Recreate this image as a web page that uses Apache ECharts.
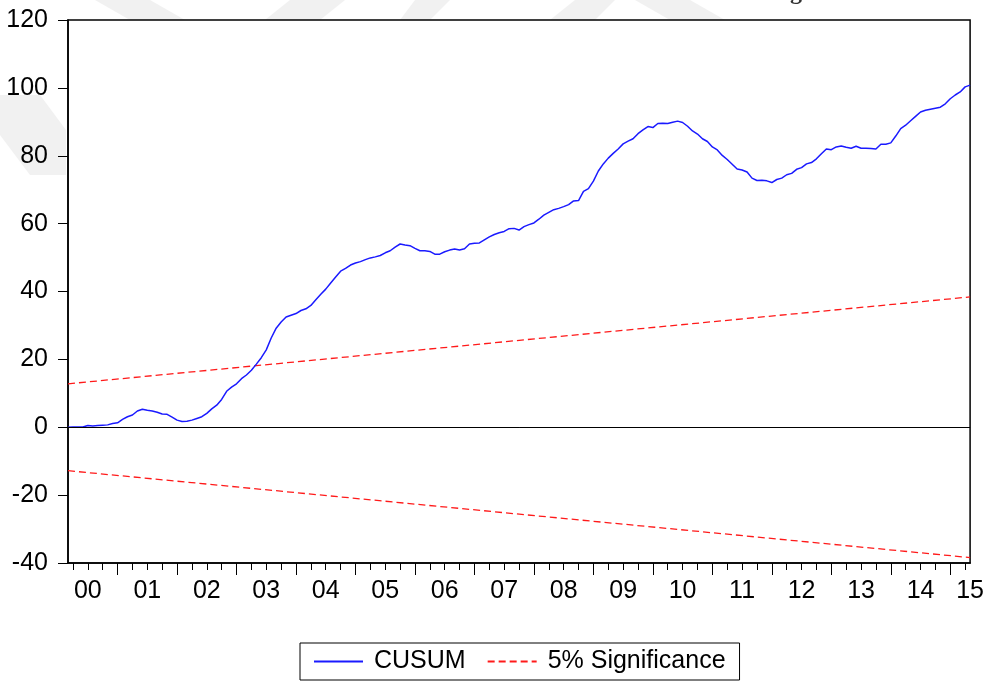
<!DOCTYPE html>
<html>
<head>
<meta charset="utf-8">
<title>CUSUM</title>
<script src="https://cdn.jsdelivr.net/npm/echarts@6/dist/echarts.min.js"></script>
<style>
  html, body { margin: 0; padding: 0; background: #ffffff; }
  #chart { width: 987px; height: 682px; }
</style>
</head>
<body>
<div id="chart"></div>
<script>
// Monthly sample: 2000M03 .. 2015M05
const startYear = 2000, startMonth = 3, nObs = 183;
const months = [];
for (let k = 0; k < nObs; k++) {
  const m = startMonth - 1 + k;
  const y = startYear + Math.floor(m / 12);
  const mm = (m % 12) + 1;
  months.push(y + 'M' + (mm < 10 ? '0' + mm : mm));
}

// Cumulative sum of recursive residuals
const cusum = [
  0.0, 0.1, 0.1, 0.1, 0.5, 0.4, 0.5, 0.6, 0.7, 1.1,
  1.3, 2.3, 3.1, 3.6, 4.8, 5.3, 5.0, 4.8, 4.4, 3.9,
  3.8, 3.0, 2.1, 1.7, 1.8, 2.1, 2.6, 3.1, 4.1, 5.4,
  6.5, 8.2, 10.6, 11.8, 12.8, 14.3, 15.4, 16.8, 18.6, 20.5,
  22.8, 26.3, 29.2, 31.0, 32.5, 33.0, 33.5, 34.4, 34.9, 35.9,
  37.6, 39.2, 40.7, 42.5, 44.3, 46.0, 46.8, 47.8, 48.4, 48.8,
  49.4, 49.9, 50.2, 50.6, 51.4, 52.0, 53.1, 54.0, 53.7, 53.5,
  52.7, 52.0, 52.0, 51.8, 51.0, 51.0, 51.7, 52.2, 52.5, 52.2,
  52.6, 54.0, 54.2, 54.3, 55.2, 56.1, 56.8, 57.3, 57.7, 58.5,
  58.6, 58.1, 59.1, 59.7, 60.2, 61.3, 62.5, 63.3, 64.1, 64.5,
  65.0, 65.6, 66.7, 66.8, 69.5, 70.3, 72.5, 75.5, 77.6, 79.3,
  80.7, 82.0, 83.5, 84.3, 85.0, 86.5, 87.6, 88.6, 88.3, 89.5,
  89.6, 89.5, 89.9, 90.2, 89.8, 88.7, 87.3, 86.4, 85.0, 84.2,
  82.6, 81.7, 80.1, 78.9, 77.5, 76.1, 75.8, 75.2, 73.4, 72.7,
  72.8, 72.6, 72.1, 73.0, 73.4, 74.4, 74.8, 76.0, 76.5, 77.6,
  78.0, 79.1, 80.6, 82.0, 81.8, 82.6, 82.9, 82.5, 82.2, 82.8,
  82.2, 82.2, 82.1, 82.0, 83.4, 83.4, 83.8, 85.8, 88.0, 89.0,
  90.3, 91.6, 92.9, 93.4, 93.7, 94.0, 94.3, 95.3, 96.8, 97.9,
  98.8, 100.3, 100.8
];

// 5% significance bounds (straight lines between first and last observation)
const upperBound = [12.8, 38.4];
const lowerBound = [-12.8, -38.4];

// Y axis scale
const yMin = -40, yMax = 120, yStep = 20;

const FONT = 'Liberation Sans, Arial, sans-serif';
const last = nObs - 1;

const monthOf = (v) => v.slice(5, 7);
const isQuarterStart = (i) => ['01', '04', '07', '10'].indexOf(monthOf(months[i])) >= 0;
const isYearStart = (i) => monthOf(months[i]) === '01';
const isYearMid = (i) => monthOf(months[i]) === '07';

const chart = echarts.init(document.getElementById('chart'), null, { renderer: 'canvas' });

const baseX = {
  type: 'category',
  data: months,
  boundaryGap: false,
  position: 'bottom',
  gridIndex: 0
};

// faint page stamp behind the plot frame
const stampFill = '#f1f1f1';
const stamp = (pts) => ({
  type: 'polygon', silent: true, z: -10,
  shape: { points: pts },
  style: { fill: stampFill }
});

chart.setOption({
  animation: false,
  backgroundColor: '#ffffff',
  graphic: [
    stamp([[95, 0], [150, 0], [185, 20], [130, 20]]),
    stamp([[290, 0], [345, 0], [320, 20], [265, 20]]),
    stamp([[415, 0], [450, 0], [430, 20], [400, 20]]),
    stamp([[575, 0], [615, 0], [595, 20], [550, 20]]),
    stamp([[635, 0], [690, 0], [725, 20], [670, 20]]),
    stamp([[0, 95], [40, 95], [66, 130], [66, 175], [30, 175], [0, 135]]),
    {
      type: 'text',
      left: 790,
      top: -19,
      silent: true,
      style: { text: 'g', font: 'bold 24px "Liberation Serif", serif', fill: '#333333' }
    }
  ],
  grid: {
    left: 68, right: 16, top: 20, bottom: 119,
    show: true,
    borderColor: '#000000',
    borderWidth: 1.5,
    backgroundColor: '#ffffff'
  },
  legend: {
    left: 300,
    top: 643,
    padding: [6, 14, 6, 13],
    itemWidth: 49,
    itemHeight: 14,
    itemGap: 21,
    borderColor: '#000000',
    borderWidth: 1,
    backgroundColor: '#ffffff',
    itemStyle: { opacity: 0 },
    textStyle: { fontFamily: FONT, fontSize: 25, color: '#000000', padding: [0, 0, 0, 6] },
    data: ['CUSUM', '5% Significance']
  },
  xAxis: [
    Object.assign({}, baseX, {
      axisLine: { show: true, onZero: false, lineStyle: { color: '#000000', width: 1.5 } },
      axisTick: {
        show: true,
        length: 7,
        interval: (i) => isQuarterStart(i),
        lineStyle: { color: '#000000', width: 1 }
      },
      axisLabel: {
        show: true,
        interval: (i) => isYearMid(i) || i === last,
        formatter: (v) => v.slice(2, 4),
        fontFamily: FONT,
        fontSize: 25,
        color: '#000000',
        margin: 16
      },
      splitLine: { show: false }
    }),
    Object.assign({}, baseX, {
      axisLine: { show: false, onZero: false },
      axisTick: {
        show: true,
        length: 12,
        interval: (i) => isYearStart(i),
        lineStyle: { color: '#000000', width: 1 }
      },
      axisLabel: { show: false },
      splitLine: { show: false }
    })
  ],
  yAxis: {
    type: 'value',
    min: yMin,
    max: yMax,
    interval: yStep,
    axisLine: { show: true, onZero: false, lineStyle: { color: '#000000', width: 1.5 } },
    axisTick: { show: true, length: 10, lineStyle: { color: '#000000', width: 1 } },
    axisLabel: { fontFamily: FONT, fontSize: 25, color: '#000000', margin: 20 },
    splitLine: { show: false }
  },
  series: [
    {
      name: 'CUSUM',
      type: 'line',
      xAxisIndex: 0,
      data: cusum,
      symbol: 'none',
      showSymbol: false,
      lineStyle: { color: '#1a1aff', width: 1.5 },
      itemStyle: { color: '#1a1aff' },
      z: 3,
      markLine: {
        silent: true,
        symbol: 'none',
        label: { show: false },
        lineStyle: { color: '#000000', width: 1, type: 'solid' },
        data: [{ yAxis: 0 }]
      }
    },
    {
      name: '5% Significance',
      type: 'line',
      xAxisIndex: 0,
      data: [[months[0], upperBound[0]], [months[last], upperBound[1]]],
      symbol: 'none',
      showSymbol: false,
      lineStyle: { color: '#ff1a1a', width: 1.3, type: [7, 4] },
      itemStyle: { color: '#ff1a1a' },
      z: 2
    },
    {
      name: '5% Significance',
      type: 'line',
      xAxisIndex: 0,
      data: [[months[0], lowerBound[0]], [months[last], lowerBound[1]]],
      symbol: 'none',
      showSymbol: false,
      lineStyle: { color: '#ff1a1a', width: 1.3, type: [7, 4] },
      itemStyle: { color: '#ff1a1a' },
      z: 2
    }
  ]
});
</script>
</body>
</html>
